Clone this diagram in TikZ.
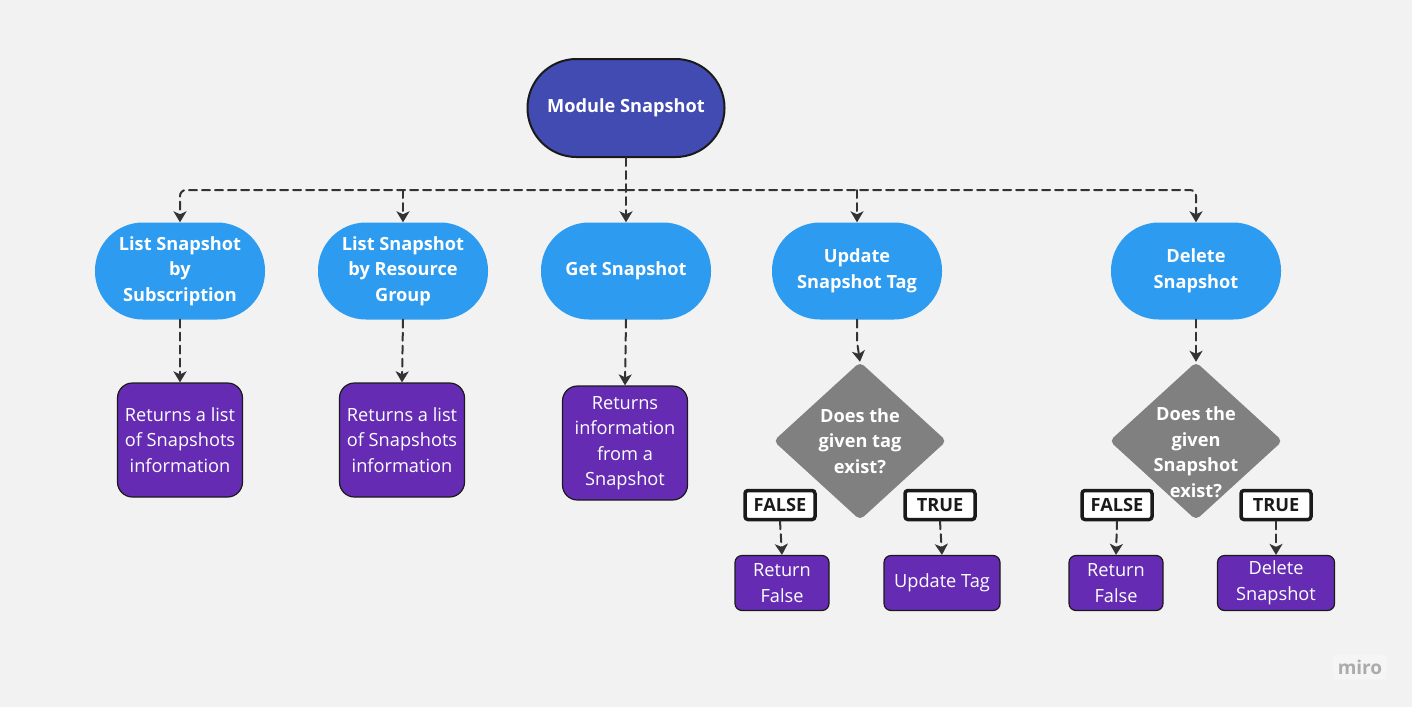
\documentclass[tikz,border=0pt]{standalone}
\usepackage{fontspec}
\setmainfont{Open Sans}
\usepackage{tikz}
\usetikzlibrary{arrows.meta, shapes.geometric, calc}

\definecolor{bgcol}{HTML}{F2F2F2}
\definecolor{rootcol}{HTML}{414BB2}
\definecolor{opcol}{HTML}{2D9BF0}
\definecolor{rescol}{HTML}{652CB3}
\definecolor{askcol}{HTML}{808080}
\definecolor{linecol}{HTML}{333333}
\definecolor{edgecol}{HTML}{1A1A1A}

\def\scale{1}
\newcommand{\boxfont}{\fontsize{18.2}{25.5}\selectfont}

\begin{document}
\begin{tikzpicture}[x=\scale pt, y=-\scale pt, line cap=round,
	every node/.style={font=\boxfont, align=center, inner sep=0pt},
	rootbox/.style={draw=edgecol, line width=2pt, fill=rootcol, text=white, font=\boxfont\bfseries,
		minimum width=197pt, minimum height=98pt, rounded corners=49pt},
	opbox/.style={fill=opcol, text=white, font=\boxfont\bfseries,
		minimum width=170pt, minimum height=97pt, rounded corners=48pt},
	resbox/.style={draw=edgecol, line width=1.2pt, fill=rescol, text=white,
		minimum width=125pt, minimum height=114pt, rounded corners=15pt},
	endbox/.style={draw=edgecol, line width=1.2pt, fill=rescol, text=white,
		minimum height=55pt, rounded corners=7pt},
	ask/.style={diamond, fill=askcol, minimum width=173pt, minimum height=158pt, rounded corners=5pt},
	asktext/.style={text=white, font=\boxfont\bfseries},
	tagbox/.style={draw=edgecol, line width=3.5pt, fill=white, text=edgecol, font=\boxfont\bfseries,
		minimum width=70pt, minimum height=29pt, rounded corners=3pt},
	flow/.style={draw=linecol, line width=2pt, dash pattern=on 8pt off 5pt,
		-{Stealth[length=11pt, width=13pt, inset=3pt]}},
	]

	\fill[bgcol] (0,0) rectangle (1412,707);
	\useasboundingbox (0,0) rectangle (1412,707);

	% root and operations
	\node[rootbox] (root) at (626,108) {Module Snapshot};

	\node[opbox] (listsub) at (180,271) {List Snapshot\\by\\Subscription};
	\node[opbox] (listrg) at (403,271) {List Snapshot\\by Resource\\Group};
	\node[opbox] (get) at (626,271) {Get Snapshot};
	\node[opbox] (update) at (857,271) {Update\\Snapshot Tag};
	\node[opbox] (delete) at (1196,271) {Delete\\Snapshot};

	% results
	\node[resbox] (retsub) at (180,440) {Returns a list\\of Snapshots\\information};
	\node[resbox] (retrg) at (402,440) {Returns a list\\of Snapshots\\information};
	\node[resbox] (retget) at (625,443) {Returns\\information\\from a\\Snapshot};

	% decisions
	\node[ask, label={[asktext]center:Does the\\given tag\\exist?}] (asktag) at (860,441) {};
	\node[ask, label={[asktext, yshift=-11pt]center:Does the\\given\\Snapshot\\exist?}] (asksnap) at (1196,441) {};

	\node[tagbox] (falsetag) at (780,505) {FALSE};
	\node[tagbox] (truetag) at (940,505) {TRUE};
	\node[tagbox] (falsesnap) at (1117,505) {FALSE};
	\node[tagbox] (truesnap) at (1276,505) {TRUE};

	\node[endbox, minimum width=94pt] (nottag) at (782,583) {Return\\False};
	\node[endbox, minimum width=116pt] (settag) at (942,583) {Update Tag};
	\node[endbox, minimum width=94pt] (notsnap) at (1116,583) {Return\\False};
	\node[endbox, minimum width=117pt] (delsnap) at (1276,583) {Delete\\Snapshot};

	% connectors
	\coordinate (bus) at (626,190);
	\draw[flow] (root.south) -- (get.north);
	\draw[flow, rounded corners=6pt] (bus) -| (listsub.north);
	\draw[flow] (bus -| listrg.north) -- (listrg.north);
	\draw[flow, rounded corners=6pt] (bus) -| (delete.north);
	\draw[flow] (bus -| update.north) -- (update.north);

	\draw[flow] (listsub.south) -- (retsub.north);
	\draw[flow] (listrg.south) -- (retrg.north);
	\draw[flow] (get.south) -- (retget.north);
	\draw[flow] (update.south) -- ++(0,22) -- (asktag.north);
	\draw[flow] (delete.south) -- (asksnap.north);

	\draw[flow] (falsetag.south) -- (nottag.north);
	\draw[flow] (truetag.south) -- (settag.north);
	\draw[flow] (falsesnap.south) -- (notsnap.north);
	\draw[flow] (truesnap.south) -- (delsnap.north);

	\node[fill=black!4, text=black!33, rounded corners=2pt, inner sep=5pt, font=\fontsize{19}{22}\selectfont\bfseries] (brand) at (1360,667) {miro};

\end{tikzpicture}
\end{document}
